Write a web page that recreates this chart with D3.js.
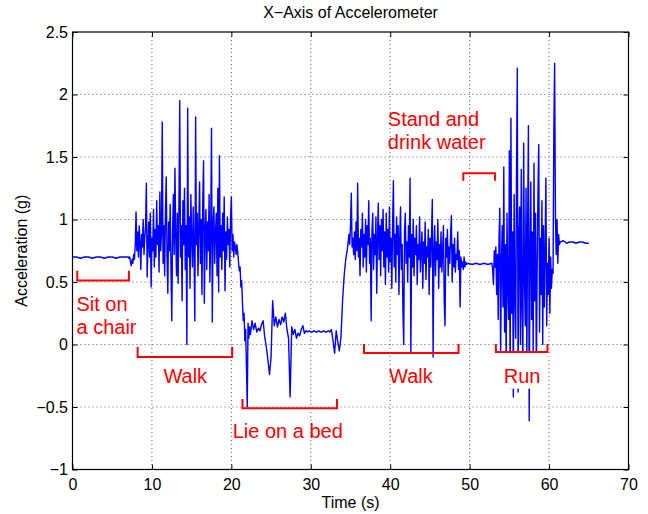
<!DOCTYPE html>
<html>
<head>
<meta charset="utf-8">
<script src="https://cdn.jsdelivr.net/npm/d3@7"></script>
<style>
  body { margin: 0; background: #fff; }
  svg { font-family: 'Liberation Sans', Arial, Helvetica, sans-serif; }
</style>
</head>
<body>
<div id="chart"></div>
<script>
// axis ticks and labels
const xTicks = [0, 10, 20, 30, 40, 50, 60, 70];
const xTickLabels = ['0', '10', '20', '30', '40', '50', '60', '70'];
const yTicks = [-1, -0.5, 0, 0.5, 1, 1.5, 2, 2.5];
const yTickLabels = ['\u22121', '\u22120.5', '0', '0.5', '1', '1.5', '2', '2.5'];

// acceleration readings (g), one list per activity
const sitValues = [0.70, 0.70, 0.69, 0.70, 0.70, 0.69, 0.70, 0.70, 0.69, 0.70, 0.70, 0.69, 0.70, 0.70, 0.70];

const walkValues1 = [
  0.69, 0.70, 0.66, 0.63, 0.68, 0.65, 0.72, 0.68, 0.80, 1.06,
  0.75, 0.90, 0.70, 0.95, 0.82, 0.60, 0.88, 0.78, 1.00, 0.72,
  0.85, 0.95, 1.29, 0.54, 0.80, 0.98, 0.70, 1.05, 0.46, 0.85,
  0.75, 1.08, 0.62, 0.92, 0.70, 1.15, 0.80, 0.95, 0.58, 1.22,
  0.75, 0.88, 1.78, 0.65, 0.95, 0.55, 1.05, 1.34, 0.70, 0.41,
  0.98, 0.75, 1.12, 0.60, 0.19, 0.90, 1.20, 0.72, 1.41, 0.85,
  0.55, 1.05, 0.49, 1.10, 1.95, 0.70, 0.95, 0.35, 1.15, 0.80,
  1.25, 0.60, 0.95, 0.00, 1.89, 0.70, 1.02, 0.45, 1.20, 0.85,
  0.62, 1.10, 0.75, 0.19, 1.82, 0.80, 1.05, 0.55, 0.95, 1.30,
  0.65, 1.00, 0.40, 1.15, 1.47, 0.33, 0.90, 1.08, 0.60, 0.98,
  0.75, 1.20, 0.50, 0.88, 1.73, 0.18, 0.95, 1.10, 0.65, 0.90,
  1.05, 0.55, 1.25, 0.42, 1.51, 0.70, 0.95, 0.60, 1.05, 0.75,
  1.18, 0.43, 0.90, 0.68, 1.02, 0.80, 0.92, 0.62, 1.00, 1.18,
  0.75, 0.88, 0.70, 0.82, 0.78, 0.72, 0.80, 0.74, 0.66, 0.59,
  0.62, 0.46, 0.51, 0.33, 0.19, 0.25, 0.03, 0.12, -0.18, -0.50,
  0.17, 0.05, 0.14, 0.08,
];

const lieValues = [
  0.19, 0.12, 0.17, 0.10, 0.13, 0.11, 0.16, 0.19, 0.06, -0.02,
  -0.12, -0.24, -0.10, 0.35, 0.15, 0.22, 0.14, 0.20, 0.16, 0.22,
  0.18, 0.25, 0.12, 0.05, -0.42, 0.14, 0.08, 0.12, 0.05, 0.09,
  0.07, 0.12, 0.15, 0.09, 0.11, 0.10, 0.11, 0.10, 0.10, 0.11,
  0.10, 0.10, 0.11, 0.10, 0.10, 0.11, 0.10, 0.10, 0.11, 0.10,
  0.12, 0.03, -0.07, 0.11, 0.02, -0.05, 0.06, 0.35, 0.55, 0.68,
  0.76,
];

const walkValues2 = [
  0.82, 0.88, 0.80, 0.95, 1.21, 0.78, 0.85, 0.72, 0.90, 0.68,
  0.98, 0.75, 1.29, 0.70, 0.85, 0.55, 0.92, 0.78, 1.05, 0.62,
  0.88, 0.70, 1.00, 0.58, 0.95, 0.80, 1.15, 0.65, 0.85, 0.19,
  0.90, 1.05, 0.60, 0.88, 0.72, 1.02, 0.41, 0.85, 1.13, 0.68,
  0.95, 0.55, 1.00, 0.75, 1.08, 0.62, 0.90, 0.48, 1.05, 0.70,
  0.92, 0.58, 1.10, 0.66, 0.85, 0.45, 0.95, 1.31, 0.62, 0.88,
  0.50, 1.02, 0.72, 0.95, 0.40, 0.85, 1.10, 0.60, 0.80, 0.28,
  0.00, 0.90, 1.05, 0.65, 0.82, 0.50, 0.95, 0.70, 1.33, -0.06,
  0.88, 0.62, 1.00, 0.55, 0.85, 0.72, 0.95, 0.48, 0.80, 0.68,
  1.02, 0.58, 0.75, 0.90, 0.45, 0.82, 0.65, 0.98, 0.52, 0.78,
  0.70, 0.92, 0.40, 0.85, 0.62, 0.88, 1.16, -0.10, 0.75, 0.95,
  0.55, 0.82, 0.68, 1.00, 0.45, 0.80, 0.62, 0.90, 0.58, 0.75,
  0.95, 0.35, 0.15, 0.85, 0.70, 0.92, 0.55, 0.78, 0.65, 0.88,
  1.03, 0.50, 0.80, 0.62, 0.85, 0.58, 0.72, 0.68, 0.90, 0.60,
  0.75, 0.30, 0.70, 0.62, 0.66, 0.60, 0.70, 0.62, 0.66, 0.64,
];

const standValues = [0.65, 0.64, 0.65, 0.64, 0.65, 0.64, 0.65];

const runValues = [
  0.60, 0.48, 0.75, 0.62, 0.78, 0.40, 0.72, 0.20, 0.85, 1.09,
  -0.10, 0.65, 0.95, 0.30, 1.42, 0.10, 0.80, -0.15, 1.05, 0.45,
  0.20, 1.55, -0.35, 1.81, 0.25, 0.90, -0.42, 1.20, 0.40, 0.05,
  1.35, 2.21, -0.38, 0.85, 1.10, 0.00, 1.40, 0.30, -0.10, 1.61,
  0.55, 0.15, 1.25, -0.15, 0.95, 1.75, -0.61, 0.70, 1.30, 0.20,
  0.90, -0.05, 1.45, 0.35, 1.05, -0.25, 0.60, 1.20, 1.60, 0.10,
  0.85, 0.40, 1.15, 0.00, 0.95, 0.30, 0.75, 1.33, 0.15, 0.65,
  0.40, 0.85, 0.25, 0.70, 0.45, 0.60, 0.57, 1.70, 2.25, 1.02,
  0.72, 1.00, 0.65, 0.88, 0.80,
];

const endValues = [0.82, 0.83, 0.81, 0.82, 0.82, 0.81, 0.82, 0.82, 0.81, 0.81];

// start time and sample step (s) of each list
const segments = [
  {t0: 0, dt: 0.5, values: sitValues},
  {t0: 7.1, dt: 0.1, values: walkValues1},
  {t0: 22.6, dt: 0.2, values: lieValues},
  {t0: 34.7, dt: 0.1, values: walkValues2},
  {t0: 49.8, dt: 0.5, values: standValues},
  {t0: 52.9, dt: 0.1, values: runValues},
  {t0: 61.4, dt: 0.4, values: endValues},
];

// activity notes: bracket span in seconds, bracket levels and text spot in g
const annotations = [
  {lines: ['Sit on', 'a chair'], tx: 0.5, ty: 0.272, anchor: 'start', from: 0.6, to: 7.1, bar: 0.512, tip: 0.59},
  {lines: ['Walk'], tx: 14.2, ty: -0.31, anchor: 'middle', from: 8.2, to: 20.1, bar: -0.10, tip: -0.02},
  {lines: ['Lie on a bed'], tx: 27.1, ty: -0.745, anchor: 'middle', from: 21.4, to: 33.3, bar: -0.51, tip: -0.435},
  {lines: ['Walk'], tx: 42.6, ty: -0.305, anchor: 'middle', from: 36.7, to: 48.6, bar: -0.067, tip: 0.005},
  {lines: ['Stand and', 'drink water'], tx: 39.7, ty: 1.745, anchor: 'start', from: 49.2, to: 53.2, bar: 1.37, tip: 1.31},
  {lines: ['Run'], tx: 56.6, ty: -0.305, anchor: 'middle', from: 53.3, to: 59.8, bar: -0.06, tip: 0.005, boxed: true},
];

const W = 648;
const H = 514;
const margins = {top: 32, right: 19.5, bottom: 44.5, left: 72.5};
const width = W - margins.left - margins.right;
const height = H - margins.top - margins.bottom;

const svgRoot = d3.select('#chart')
  .append('svg')
  .attr('width', W)
  .attr('height', H);

const svg = svgRoot.append('g')
  .attr('transform', `translate(${margins.left},${margins.top})`);

const x = d3.scaleLinear().domain([0, 70]).range([0, width]);
const y = d3.scaleLinear().domain([-1, 2.5]).range([height, 0]);

// dotted grid
const grid = svg.append('g')
  .attr('stroke', '#333')
  .attr('stroke-width', 0.8)
  .attr('stroke-dasharray', '1,3');

grid.selectAll('.gx')
  .data(xTicks.slice(1, -1))
  .join('line')
  .attr('x1', (d) => x(d)).attr('x2', (d) => x(d))
  .attr('y1', 0).attr('y2', height);

grid.selectAll('.gy')
  .data(yTicks.slice(1, -1))
  .join('line')
  .attr('y1', (d) => y(d)).attr('y2', (d) => y(d))
  .attr('x1', 0).attr('x2', width);

// the signal
const points = segments.flatMap((s) =>
  s.values.map((v, i) => ({t: s.t0 + i * s.dt, v})));

const line = d3.line().x((d) => x(d.t)).y((d) => y(d.v));

svg.append('path')
  .datum(points)
  .attr('d', line)
  .attr('fill', 'none')
  .attr('stroke', '#0000ff')
  .attr('stroke-width', 1.4)
  .attr('stroke-linejoin', 'round');

// brackets and labels
const notes = svg.append('g');

annotations.forEach((a) => {
  const txt = notes.append('text')
    .attr('x', x(a.tx))
    .attr('y', y(a.ty))
    .attr('text-anchor', a.anchor)
    .attr('font-size', 20)
    .attr('fill', '#ff0000');

  a.lines.forEach((l, i) => {
    txt.append('tspan')
      .attr('x', x(a.tx))
      .attr('dy', i === 0 ? 0 : 23)
      .text(l);
  });

  // white box behind the label, hides the line under it
  if (a.boxed) {
    const b = txt.node().getBBox();
    notes.insert('rect', () => txt.node())
      .attr('x', b.x - 4)
      .attr('y', y(a.bar))
      .attr('width', b.width + 8)
      .attr('height', b.y + b.height + 2 - y(a.bar))
      .attr('fill', '#fff');
  }

  notes.append('path')
    .attr('d', `M${x(a.from)},${y(a.tip)}L${x(a.from)},${y(a.bar)}` +
      `L${x(a.to)},${y(a.bar)}L${x(a.to)},${y(a.tip)}`)
    .attr('fill', 'none')
    .attr('stroke', '#ff0000')
    .attr('stroke-width', 2);
});

// axes, ticks pointing inward on all four sides
const styleAxis = (g) => {
  g.select('.domain').remove();
  g.selectAll('.tick line').attr('stroke', '#000');
  g.selectAll('.tick text')
    .attr('font-size', 16)
    .attr('fill', '#000')
    .attr('font-family', null);
  g.attr('font-family', null);
};

svg.append('g')
  .attr('transform', `translate(0,${height})`)
  .call(d3.axisBottom(x).tickValues(xTicks)
    .tickFormat((d, i) => xTickLabels[i])
    .tickSizeInner(-5).tickSizeOuter(0))
  .call(styleAxis)
  .call((g) => g.selectAll('.tick text').attr('y', 20.5).attr('dy', 0));

svg.append('g')
  .call(d3.axisLeft(y).tickValues(yTicks)
    .tickFormat((d, i) => yTickLabels[i])
    .tickSizeInner(-5).tickSizeOuter(0))
  .call(styleAxis)
  .call((g) => g.selectAll('.tick text').attr('x', -4.5));

svg.append('g')
  .call(d3.axisTop(x).tickValues(xTicks).tickFormat('')
    .tickSizeInner(-5).tickSizeOuter(0))
  .call(styleAxis);

svg.append('g')
  .attr('transform', `translate(${width},0)`)
  .call(d3.axisRight(y).tickValues(yTicks).tickFormat('')
    .tickSizeInner(-5).tickSizeOuter(0))
  .call(styleAxis);

svg.append('rect')
  .attr('width', width)
  .attr('height', height)
  .attr('fill', 'none')
  .attr('stroke', '#000')
  .attr('stroke-width', 1.2);

// title and axis labels
svgRoot.append('text')
  .attr('x', margins.left + width / 2)
  .attr('y', 18)
  .attr('text-anchor', 'middle')
  .attr('font-size', 16)
  .text('X\u2212Axis of Accelerometer');

svgRoot.append('text')
  .attr('x', margins.left + width / 2)
  .attr('y', 508)
  .attr('text-anchor', 'middle')
  .attr('font-size', 16)
  .text('Time (s)');

svgRoot.append('text')
  .attr('transform', `translate(27,${margins.top + height / 2}) rotate(-90)`)
  .attr('text-anchor', 'middle')
  .attr('font-size', 16)
  .text('Acceleration (g)');
</script>
</body>
</html>
